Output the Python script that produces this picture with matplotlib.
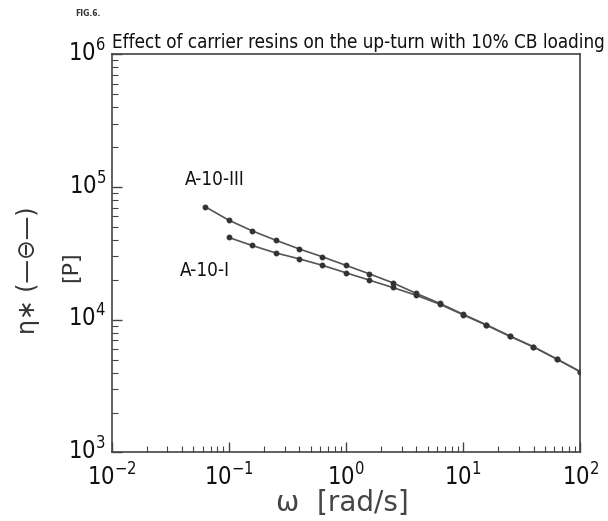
import matplotlib
matplotlib.use("Agg")
import matplotlib.pyplot as plt
import matplotlib.transforms as mtransforms
from matplotlib.ticker import LogLocator, FixedLocator, FixedFormatter, NullFormatter

# ---- data ----
omega_III = [0.0631, 0.1, 0.158, 0.251, 0.398, 0.631, 1.0, 1.58, 2.51, 3.98,
             6.31, 10.0, 15.8, 25.1, 39.8, 63.1, 100.0]
eta_III = [71000, 56300, 46800, 39800, 34200, 29800, 25700, 22200, 19000, 15800,
           13300, 11000, 9170, 7540, 6260, 5060, 4060]

omega_I = [0.1, 0.158, 0.251, 0.398, 0.631, 1.0, 1.58, 2.51, 3.98,
           6.31, 10.0, 15.8, 25.1, 39.8, 63.1, 100.0]
eta_I = [41700, 36300, 31900, 28800, 25700, 22600, 19900, 17500, 15300,
         13100, 10900, 9100, 7500, 6250, 5050, 4060]

x_ticks = [1e-2, 1e-1, 1e0, 1e1, 1e2]
x_tick_labels = [r"$\mathregular{10^{-2}}$", r"$\mathregular{10^{-1}}$", r"$\mathregular{10^{0}}$",
                 r"$\mathregular{10^{1}}$", r"$\mathregular{10^{2}}$"]
y_ticks = [1e3, 1e4, 1e5, 1e6]
y_tick_labels = [r"$\mathregular{10^{3}}$", r"$\mathregular{10^{4}}$",
                 r"$\mathregular{10^{5}}$", r"$\mathregular{10^{6}}$"]

title = "Effect of carrier resins on the up-turn with 10% CB loading"
label_III = "A-10-III"
label_I = "A-10-I"

plt.rcParams["mathtext.default"] = "regular"
COND = dict(family="DejaVu Sans", stretch="condensed")

fig = plt.figure(figsize=(6.08, 5.21), dpi=100)
ax = fig.add_axes([0.1834, 0.1315, 0.771, 0.7643])

line_kw = dict(color="#555555", lw=1.2, marker="o", ms=3.2,
               markerfacecolor="#333333", markeredgecolor="#333333")
ax.plot(omega_III, eta_III, **line_kw)
ax.plot(omega_I, eta_I, **line_kw)

ax.set_xscale("log")
ax.set_yscale("log")
ax.set_xlim(1e-2, 1e2)
ax.set_ylim(1e3, 1e6)

ax.xaxis.set_major_locator(FixedLocator(x_ticks))
ax.xaxis.set_major_formatter(FixedFormatter(x_tick_labels))
ax.yaxis.set_major_locator(FixedLocator(y_ticks))
ax.yaxis.set_major_formatter(FixedFormatter(y_tick_labels))
ax.xaxis.set_minor_locator(LogLocator(base=10, subs=range(2, 10), numticks=20))
ax.yaxis.set_minor_locator(LogLocator(base=10, subs=range(2, 10), numticks=20))
ax.xaxis.set_minor_formatter(NullFormatter())
ax.yaxis.set_minor_formatter(NullFormatter())

ax.tick_params(which="both", direction="in", top=False, right=False, color="#444444")
ax.tick_params(which="major", length=7, width=1.0)
ax.tick_params(which="minor", length=4, width=0.8)
ax.tick_params(axis="x", which="major", pad=8)
ax.tick_params(axis="y", which="major", pad=4)
for lab in ax.get_xticklabels() + ax.get_yticklabels():
    lab.set_family("DejaVu Sans")
    lab.set_stretch("condensed")
    lab.set_fontsize(17)
    lab.set_color("#111111")

# nudge y tick labels slightly upward, as in the original
shift = mtransforms.ScaledTranslation(0, 4 / 100, fig.dpi_scale_trans)
for lab in ax.get_yticklabels():
    lab.set_transform(lab.get_transform() + shift)

for s in ax.spines.values():
    s.set_color("#444444")
    s.set_linewidth(1.2)

ax.text(0.0, 1.030, title, transform=ax.transAxes, ha="left", va="center",
        fontsize=13.5, color="#111111", **COND)
fig.text(75 / 608, 1 - 14 / 521, "FIG.6.", ha="left", va="center",
         fontsize=5.5, weight="bold", color="#333333")

ax.text(0.0424, 1.13e5, label_III, ha="left", va="center",
        fontsize=13.5, color="#111111", **COND)
ax.text(0.0384, 2.37e4, label_I, ha="left", va="center",
        fontsize=13.5, color="#111111", **COND)

fig.text(342 / 608, 1 - 503 / 521, "ω  [rad/s]", ha="center", va="center",
         fontsize=20, color="#444444")
fig.text(28 / 608, 1 - 270 / 521, "η∗ (—⊖—)", ha="center", va="center",
         rotation=90, fontsize=17, color="#333333")
fig.text(71 / 608, 1 - 267 / 521, "[P]", ha="center", va="center",
         rotation=90, fontsize=16, color="#333333")

fig.savefig("out.png", dpi=100)
